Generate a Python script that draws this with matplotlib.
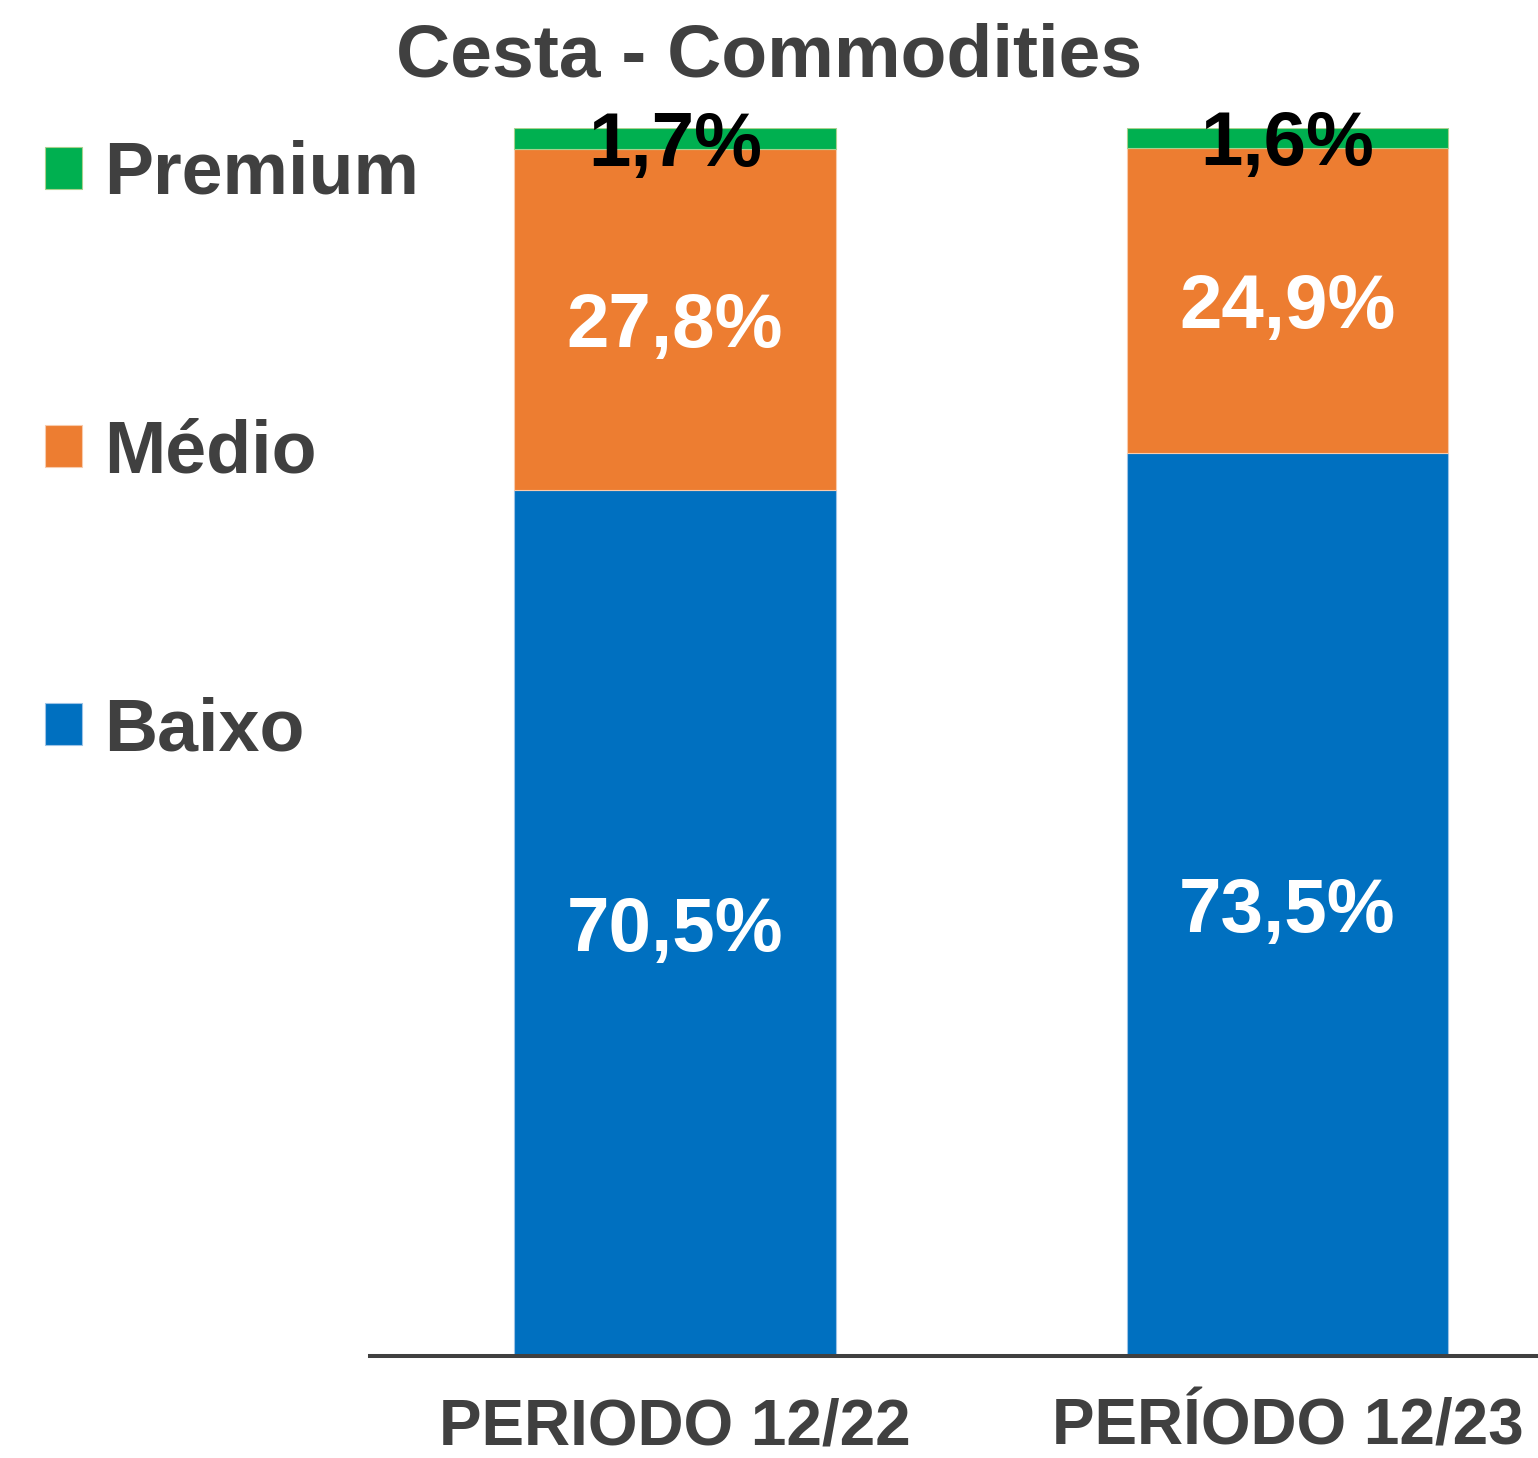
import numpy as np
import matplotlib.pyplot as plt

plt.rcParams['font.family'] = ['Liberation Sans', 'DejaVu Sans']
plt.rcParams['font.weight'] = 'bold'

# data
periods = ['PERIODO 12/22', 'PERÍODO 12/23']
baixo = [70.5, 73.5]
medio = [27.8, 24.9]
premium = [1.7, 1.6]

gray = '#404040'
c_baixo, c_medio, c_premium = '#0070C0', '#ED7D31', '#00B050'

fig = plt.figure(figsize=(15.38, 14.58), dpi=100)
ax = fig.add_axes([370/1538, 1 - 1356/1458, 1 - 370/1538, (1356 - 128)/1458])

x = np.arange(len(periods))
w = 0.5257
bottom2 = np.array(baixo) + np.array(medio)
b1 = ax.bar(x, baixo, w, color=c_baixo, edgecolor='#9DC3E6', linewidth=0.8, label='Baixo')
b2 = ax.bar(x, medio, w, bottom=baixo, color=c_medio, edgecolor='#F8CBAD', linewidth=0.8, label='Médio')
b3 = ax.bar(x, premium, w, bottom=bottom2, color=c_premium, edgecolor='#A9D18E', linewidth=0.8, label='Premium')

def fmt(v):
    return f'{v:.1f}%'.replace('.', ',')

for i in range(len(periods)):
    ax.text(x[i], baixo[i] / 2, fmt(baixo[i]), ha='center', va='center_baseline',
            color='white', fontsize=55, fontweight='bold')
    ax.text(x[i], baixo[i] + medio[i] / 2, fmt(medio[i]), ha='center', va='center_baseline',
            color='white', fontsize=55, fontweight='bold')
    ax.text(x[i], bottom2[i] + premium[i] / 2, fmt(premium[i]), ha='center', va='center_baseline',
            color='black', fontsize=55, fontweight='bold')

ax.set_xlim(-0.498, 1.409)
ax.set_ylim(0, 100)
ax.set_xticks(x)
ax.set_xticklabels(periods, fontsize=46, fontweight='bold', color=gray)
ax.tick_params(axis='x', length=0, pad=30)
ax.set_yticks([])
for s in ['top', 'right', 'left']:
    ax.spines[s].set_visible(False)
ax.spines['bottom'].set_color(gray)
ax.spines['bottom'].set_linewidth(2.9)

leg = fig.legend(handles=[b3, b2, b1], labels=['Premium', 'Médio', 'Baixo'],
                 loc='upper left', bbox_to_anchor=(45/1538, 1 - 140/1458),
                 frameon=False, fontsize=53, handlelength=0.5, handleheight=0.5,
                 handletextpad=0.3, labelspacing=2.84, borderpad=0, borderaxespad=0)
for t in leg.get_texts():
    t.set_color(gray)
    t.set_fontweight('bold')

fig.text(0.5, 1 - 57/1458, 'Cesta - Commodities', ha='center', va='center',
         fontsize=54, fontweight='bold', color=gray)

fig.savefig('out.png', dpi=100)
